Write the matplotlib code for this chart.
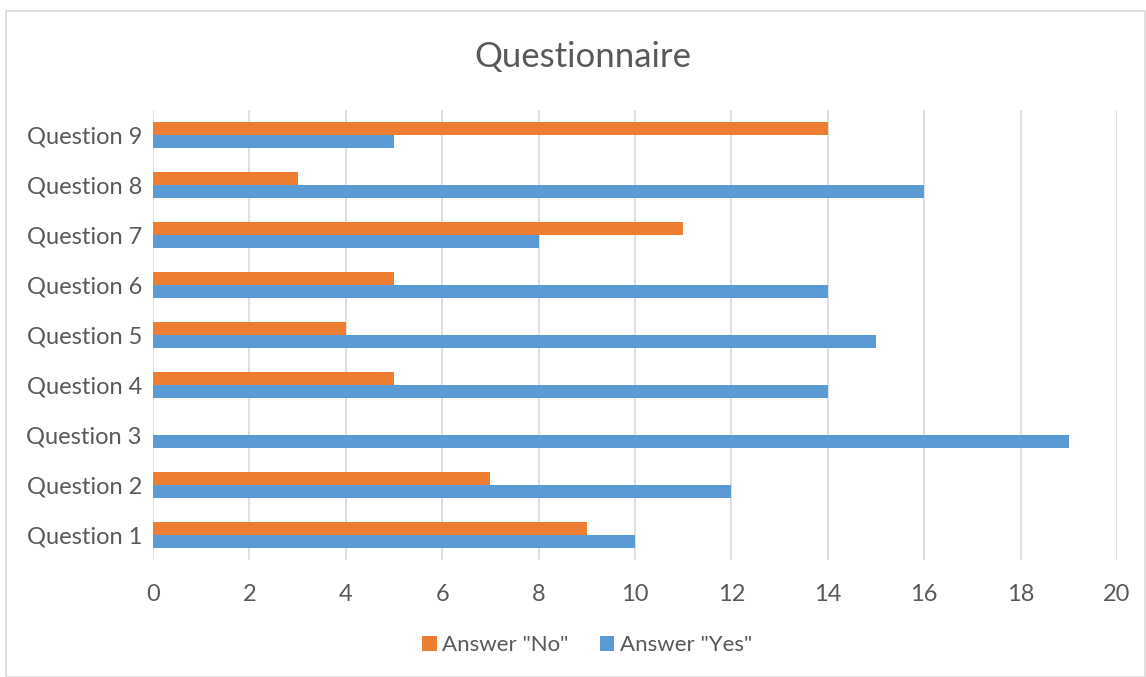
import matplotlib.pyplot as plt
import numpy as np
from matplotlib.patches import Rectangle

questions = ["Question 1", "Question 2", "Question 3", "Question 4", "Question 5",
             "Question 6", "Question 7", "Question 8", "Question 9"]
answer_no = [9, 7, 0, 5, 4, 5, 11, 3, 14]
answer_yes = [10, 12, 19, 14, 15, 14, 8, 16, 5]

orange = "#ED7D31"
blue = "#5B9BD5"
text_color = "#595959"

plt.rcParams["font.family"] = ["Lato", "DejaVu Sans"]

fig = plt.figure(figsize=(11.46, 6.77), dpi=100)
# chart frame
fig.patches.append(Rectangle((6 / 1146, 0), 1 - 6 / 1146 - 0.0005, 1 - 11 / 677,
                             transform=fig.transFigure, fill=False,
                             edgecolor="#D9D9D9", linewidth=1.2))

ax = fig.add_axes([153 / 1146, 1 - 560 / 677, (1117 - 153) / 1146, (560 - 110) / 677])

y = np.arange(len(questions))
h = 0.26
ax.barh(y + h / 2, answer_no, height=h, color=orange, label='Answer "No"', zorder=3)
ax.barh(y - h / 2, answer_yes, height=h, color=blue, label='Answer "Yes"', zorder=3)

ax.set_xlim(0, 20)
ax.set_ylim(-0.5, 8.5)
ax.set_xticks(np.arange(0, 21, 2))
ax.set_yticks(y)
ax.set_yticklabels(questions)
ax.grid(axis="x", color="#D9D9D9", linewidth=1.2, zorder=0)
ax.tick_params(length=0, labelsize=17, colors=text_color)
ax.tick_params(axis="x", pad=17)
ax.tick_params(axis="y", pad=8)
for s in ax.spines.values():
    s.set_visible(False)

fig.text(583 / 1146, 1 - 57 / 677, "Questionnaire", ha="center", va="center",
         fontsize=25, color=text_color)

fig.legend(loc="center", bbox_to_anchor=(587 / 1146, 1 - 645 / 677), ncol=2,
           frameon=False, fontsize=16, labelcolor=text_color,
           handlelength=0.65, handleheight=0.65, handletextpad=0.25, columnspacing=1.4)

fig.savefig("out.png", dpi=100)
